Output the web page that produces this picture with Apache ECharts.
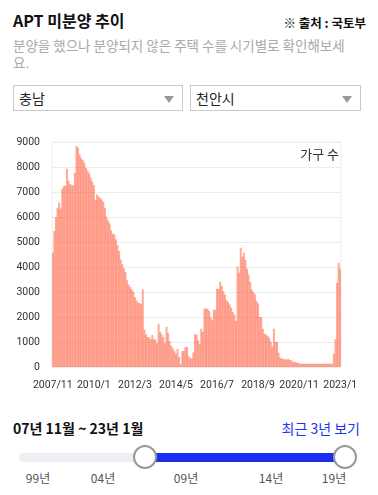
<!DOCTYPE html>
<html>
<head>
<meta charset="utf-8">
<script src="https://cdn.jsdelivr.net/npm/echarts@6/dist/echarts.min.js"></script>
<style>
  body { margin: 0; width: 378px; height: 495px; position: relative; overflow: hidden;
         font-family: "Noto Sans CJK KR", sans-serif; background: #fff; color: #111; }
  .abs { position: absolute; white-space: nowrap; line-height: 1; }
  .title { left: 13px; top: 12px; font-size: 16px; font-weight: bold; }
  .source { right: 12px; top: 17px; font-size: 12.5px; font-weight: bold; }
  .desc { position: absolute; left: 13px; top: 37px; width: 345px; font-size: 13.5px; line-height: 17px;
          color: #a9a9a9; }
  .select { position: absolute; top: 85px; height: 26px; border: 1px solid #c9c9c9; box-sizing: border-box;
            font-size: 14px; line-height: 25px; padding-left: 5px; color: #222; }
  .select:after { content: ""; position: absolute; right: 8px; top: 10px; border-left: 5px solid transparent;
                  border-right: 5px solid transparent; border-top: 7px solid #999; }
  #chart { position: absolute; left: 0; top: 130px; width: 378px; height: 270px; }
  .range { left: 13px; top: 421px; font-size: 14px; font-weight: bold; }
  .recent { right: 18px; top: 421px; font-size: 14px; color: #2233ee; }
  .track { position: absolute; left: 19px; top: 453px; width: 326px; height: 9px; border-radius: 4.5px; background: #eeeff2; }
  .fill { position: absolute; left: 145px; top: 453px; width: 200px; height: 9px; background: #1c2ff0; }
  .knob { position: absolute; top: 445px; width: 24px; height: 24px; border-radius: 50%; background: #fff;
          border: 2px solid #999; box-sizing: border-box; }
  .yr { position: absolute; top: 472px; font-size: 12px; color: #555; transform: translateX(-50%); line-height: 1; }
</style>
</head>
<body>
<div class="abs title">APT 미분양 추이</div>
<div class="abs source">※ 출처 : 국토부</div>
<div class="desc">분양을 했으나 분양되지 않은 주택 수를 시기별로 확인해보세요.</div>
<div class="select" style="left:13px;width:170px;">충남</div>
<div class="select" style="left:190px;width:171px;">천안시</div>
<div id="chart"></div>
<div class="abs range">07년 11월 ~ 23년 1월</div>
<div class="abs recent">최근 3년 보기</div>
<div class="track"></div>
<div class="fill"></div>
<div class="knob" style="left:133px;"></div>
<div class="knob" style="left:333px;"></div>
<div class="yr" style="left:38px;">99년</div>
<div class="yr" style="left:103px;">04년</div>
<div class="yr" style="left:186px;">09년</div>
<div class="yr" style="left:271px;">14년</div>
<div class="yr" style="left:334px;">19년</div>
<script>
// 월별 미분양 가구 수 (2007/11 ~ 2023/1)
var startYear = 2007
var startMonth = 11
var unsold = [
  4570, 5440, 6000, 6370, 6570, 6330, 7130, 7240, 7250, 7930,
  7450, 7320, 7270, 7270, 7770, 8840, 8780, 8500, 8350, 8280,
  8170, 7970, 7850, 7750, 7570, 7420, 7280, 6690, 6900, 6820,
  6760, 6700, 6610, 6370, 6010, 5860, 5740, 5470, 5330, 5300,
  5100, 4880, 4640, 4300, 4110, 3950, 3800, 3470, 3300, 3200,
  3100, 3010, 2800, 2670, 2570, 2550, 2530, 3100, 1500, 1310,
  1200, 1200, 1110, 1280, 1110, 1100, 950, 1730, 1410, 1300,
  1200, 950, 1610, 1370, 1040, 840, 740, 640, 530, 720,
  400, 105, 640, 640, 800, 800, 440, 350, 350, 580,
  1300, 1300, 1080, 930, 1530, 1410, 2330, 2330, 2330, 2240,
  2000, 1870, 2290, 2290, 3130, 3130, 3410, 3240, 3040, 2900,
  2680, 2600, 2500, 2370, 2200, 2080, 1840, 4010, 3770, 4770,
  4410, 4570, 4290, 3930, 3700, 3400, 3110, 3000, 2910, 2640,
  2550, 2000, 2000, 1530, 1330, 1300, 1250, 1170, 1010, 810,
  1530, 1010, 1010, 570, 370, 345, 320, 305, 290, 330,
  280, 270, 210, 210, 180, 170, 150, 130, 130, 130,
  130, 130, 130, 130, 130, 130, 130, 130, 130, 130,
  130, 130, 130, 130, 130, 130, 130, 130,
  530, 1110, 3370, 4170, 3930
]
var yTicks = { min: 0, max: 9000, interval: 1000 }

var months = []
for (var i = 0; i < unsold.length; i++) {
  var m = startMonth - 1 + i
  months.push((startYear + Math.floor(m / 12)) + "/" + (m % 12 + 1))
}

var chart = echarts.init(document.getElementById("chart"))
chart.setOption({
  animation: false,
  title: {
    text: "가구 수",
    right: 39,
    top: 18,
    padding: 0,
    textStyle: { fontSize: 13, fontWeight: "normal", color: "#333", fontFamily: "Noto Sans CJK KR" }
  },
  grid: { left: 52, right: 37, top: 12, bottom: 33, show: true, borderColor: "#ececec", borderWidth: 1 },
  xAxis: {
    type: "category",
    data: months,
    axisLine: { show: false },
    axisTick: { show: false },
    axisLabel: { interval: 25, color: "#333", fontSize: 10.5, margin: 13, fontFamily: "Roboto" }
  },
  yAxis: {
    type: "value",
    min: yTicks.min,
    max: yTicks.max,
    interval: yTicks.interval,
    axisLine: { show: false },
    axisTick: { show: false },
    axisLabel: {
      color: "#333", fontSize: 10.5, margin: 12, fontFamily: "Roboto",
      formatter: function (v) { return String(v) }
    },
    splitLine: { lineStyle: { color: "#ececec" } }
  },
  series: [{
    type: "bar",
    data: unsold,
    barWidth: 2,
    itemStyle: { color: "rgba(255, 98, 70, 0.55)" }
  }]
})
</script>
</body>
</html>
